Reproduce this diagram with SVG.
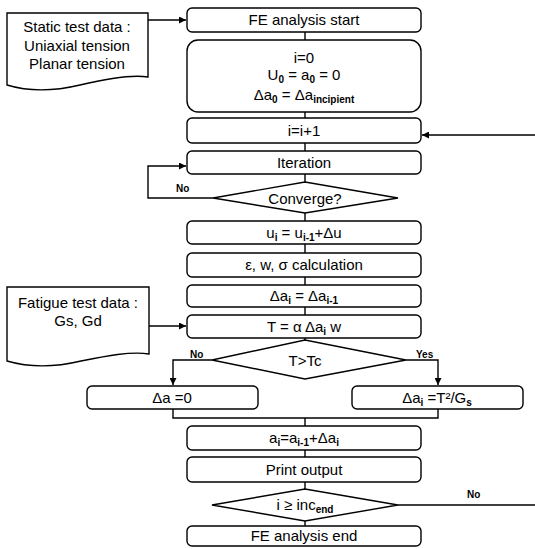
<svg xmlns="http://www.w3.org/2000/svg" width="535" height="549" viewBox="0 0 535 549">
<defs>
<style>
.box{fill:#fff;stroke:#000;stroke-width:1.4}
.ln{fill:none;stroke:#000;stroke-width:1.4}
.t{font-family:"Liberation Sans",Arial,sans-serif;font-size:15px;fill:#000;text-anchor:middle}
.s{font-size:10px;font-weight:bold}
.lbl{font-family:"Liberation Sans",Arial,sans-serif;font-size:10px;font-weight:bold;fill:#000}
</style>
<marker id="ah" viewBox="0 0 10 10" refX="10" refY="5" markerWidth="9" markerHeight="7" markerUnits="userSpaceOnUse" orient="auto">
<path d="M0,0 L10,5 L0,10 Z" fill="#000"/>
</marker>
</defs>
<rect width="535" height="549" fill="#fff"/>
<g id="connectors">
<path class="ln" d="M148,20 H186" marker-end="url(#ah)"/>
<path class="ln" d="M305,32 V40 M305,112 V118 M305,143 V151 M305,174 V182 M305,213 V221 M305,244 V253 M305,277 V285 M305,307 V315 M305,338 V340 M305,418 V426 M305,450 V457 M305,482 V489 M305,521 V526"/>
<path class="ln" d="M535,135 H422" marker-end="url(#ah)"/>
<path class="ln" d="M213,198 H148 V166 H186" marker-end="url(#ah)"/>
<path class="ln" d="M149,326 H186" marker-end="url(#ah)"/>
<path class="ln" d="M212,360 H173 V385" marker-end="url(#ah)"/>
<path class="ln" d="M406,360 H438 V385" marker-end="url(#ah)"/>
<path class="ln" d="M173,409 V418 H438 V409"/>
<path class="ln" d="M398,505 H535"/>
<text class="lbl" x="176" y="192">No</text>
<text class="lbl" x="190" y="358">No</text>
<text class="lbl" x="416" y="358">Yes</text>
<text class="lbl" x="467" y="498">No</text>
</g>
<g id="static-data">
<path class="box" d="M7,13 H148 V77 C130,74 105,79 80,85 C55,91 30,92 7,85 Z"/>
<text class="t" x="77" y="32">Static test data :</text>
<text class="t" x="77" y="51">Uniaxial tension</text>
<text class="t" x="77" y="69">Planar tension</text>
</g>
<g id="fatigue-data">
<path class="box" d="M7,287 H149 V354 C131,351 106,356 81,361 C56,367 31,368 7,361 Z"/>
<text class="t" x="78" y="308">Fatigue test data :</text>
<text class="t" x="78" y="326">Gs, Gd</text>
</g>
<g id="start">
<rect class="box" x="187" y="8" width="234" height="24" rx="5"/>
<text class="t" x="304" y="25">FE analysis start</text>
</g>
<g id="init">
<rect class="box" x="187" y="40" width="234" height="72" rx="11"/>
<text class="t" x="304" y="63">i=0</text>
<text class="t" x="304" y="80">U<tspan class="s" dy="2.5">0</tspan><tspan dy="-2.5"> = a</tspan><tspan class="s" dy="2.5">0</tspan><tspan dy="-2.5"> = 0</tspan></text>
<text class="t" x="304" y="100">Δa<tspan class="s" dy="2.5">0</tspan><tspan dy="-2.5"> = Δa</tspan><tspan class="s" dy="2.5">incipient</tspan></text>
</g>
<g id="increment">
<rect class="box" x="187" y="118" width="234" height="25" rx="5"/>
<text class="t" x="304" y="136">i=i+1</text>
</g>
<g id="iteration">
<rect class="box" x="187" y="151" width="234" height="23" rx="5"/>
<text class="t" x="304" y="168">Iteration</text>
</g>
<g id="converge">
<polygon class="box" points="213,198 305,182 398,198 305,213"/>
<text class="t" x="305" y="204">Converge?</text>
</g>
<g id="displacement">
<rect class="box" x="187" y="221" width="234" height="23" rx="5"/>
<text class="t" x="304" y="238">u<tspan class="s" dy="2.5">i</tspan><tspan dy="-2.5"> = u</tspan><tspan class="s" dy="2.5">i-1</tspan><tspan dy="-2.5">+Δu</tspan></text>
</g>
<g id="calculation">
<rect class="box" x="187" y="253" width="234" height="24" rx="5"/>
<text class="t" x="304" y="270">ε, w, σ calculation</text>
</g>
<g id="crack-inc">
<rect class="box" x="187" y="285" width="234" height="22" rx="5"/>
<text class="t" x="304" y="301">Δa<tspan class="s" dy="2.5">i</tspan><tspan dy="-2.5"> = Δa</tspan><tspan class="s" dy="2.5">i-1</tspan></text>
</g>
<g id="tearing">
<rect class="box" x="187" y="315" width="234" height="23" rx="5"/>
<text class="t" x="304" y="332">T = α Δa<tspan class="s" dy="2.5">i</tspan><tspan dy="-2.5"> w</tspan></text>
</g>
<g id="t-check">
<polygon class="box" points="212,360 305,340 406,360 305,379"/>
<text class="t" x="305" y="366">T&gt;Tc</text>
</g>
<g id="no-growth">
<rect class="box" x="87" y="386" width="171" height="23" rx="5"/>
<text class="t" x="172" y="403">Δa =0</text>
</g>
<g id="growth">
<rect class="box" x="352" y="386" width="171" height="23" rx="5"/>
<text class="t" x="437" y="403">Δa<tspan class="s" dy="2.5">i</tspan><tspan dy="-2.5"> =T²/G</tspan><tspan class="s" dy="2.5">s</tspan></text>
</g>
<g id="update">
<rect class="box" x="187" y="426" width="234" height="24" rx="5"/>
<text class="t" x="304" y="443">a<tspan class="s" dy="2.5">i</tspan><tspan dy="-2.5">=a</tspan><tspan class="s" dy="2.5">i-1</tspan><tspan dy="-2.5">+Δa</tspan><tspan class="s" dy="2.5">i</tspan></text>
</g>
<g id="print">
<rect class="box" x="187" y="457" width="234" height="25" rx="5"/>
<text class="t" x="304" y="475">Print output</text>
</g>
<g id="end-check">
<polygon class="box" points="212,505 305,489 398,505 305,521"/>
<text class="t" x="305" y="510">i ≥ inc<tspan class="s" dy="2.5">end</tspan></text>
</g>
<g id="end">
<rect class="box" x="187" y="526" width="234" height="20" rx="5"/>
<text class="t" x="304" y="541">FE analysis end</text>
</g>
</svg>
